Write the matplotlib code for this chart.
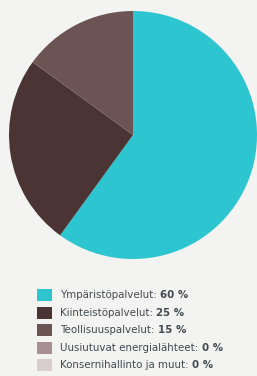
import matplotlib
matplotlib.use("Agg")
import matplotlib.pyplot as plt
from matplotlib.patches import Rectangle

categories = ["Ympäristöpalvelut", "Kiinteistöpalvelut", "Teollisuuspalvelut",
              "Uusiutuvat energialähteet", "Konsernihallinto ja muut"]
values = [60, 25, 15, 0, 0]
value_labels = ["60 %", "25 %", "15 %", "0 %", "0 %"]
colors = ["#2cc5d0", "#4a3434", "#6d5454", "#a88f93", "#d9cdcf"]

W, H = 257, 376
fig = plt.figure(figsize=(W / 100, H / 100), dpi=100)
fig.patch.set_facecolor("#f3f3f1")

# pie axes
r = 124
cx, cy = 133, 135
ax = fig.add_axes([(cx - r) / W, 1 - (cy + r) / H, 2 * r / W, 2 * r / H])
ax.pie(values, colors=colors, startangle=90, counterclock=False,
       wedgeprops=dict(linewidth=0))
ax.set_aspect("equal")
ax.set_xlim(-1, 1)
ax.set_ylim(-1, 1)
ax.axis("off")

txt_color = "#414a50"
row0 = 295
step = 17.6
for i, (cat, col) in enumerate(zip(categories, colors)):
    yc = row0 + i * step
    fig.patches.append(Rectangle((37 / W, 1 - (yc + 6) / H), 15 / W, 12 / H,
                                 transform=fig.transFigure, facecolor=col,
                                 edgecolor="none"))
    t = fig.text(60 / W, 1 - yc / H, cat + ": ", fontsize=7.4, color=txt_color,
                 va="center", ha="left", family="DejaVu Sans")
    ax.annotate(value_labels[i], xy=(1, 0.5), xycoords=t, va="center",
                ha="left", fontsize=7.4, color=txt_color, fontweight="bold",
                annotation_clip=False)

fig.savefig("out.png", dpi=100, facecolor=fig.get_facecolor())
